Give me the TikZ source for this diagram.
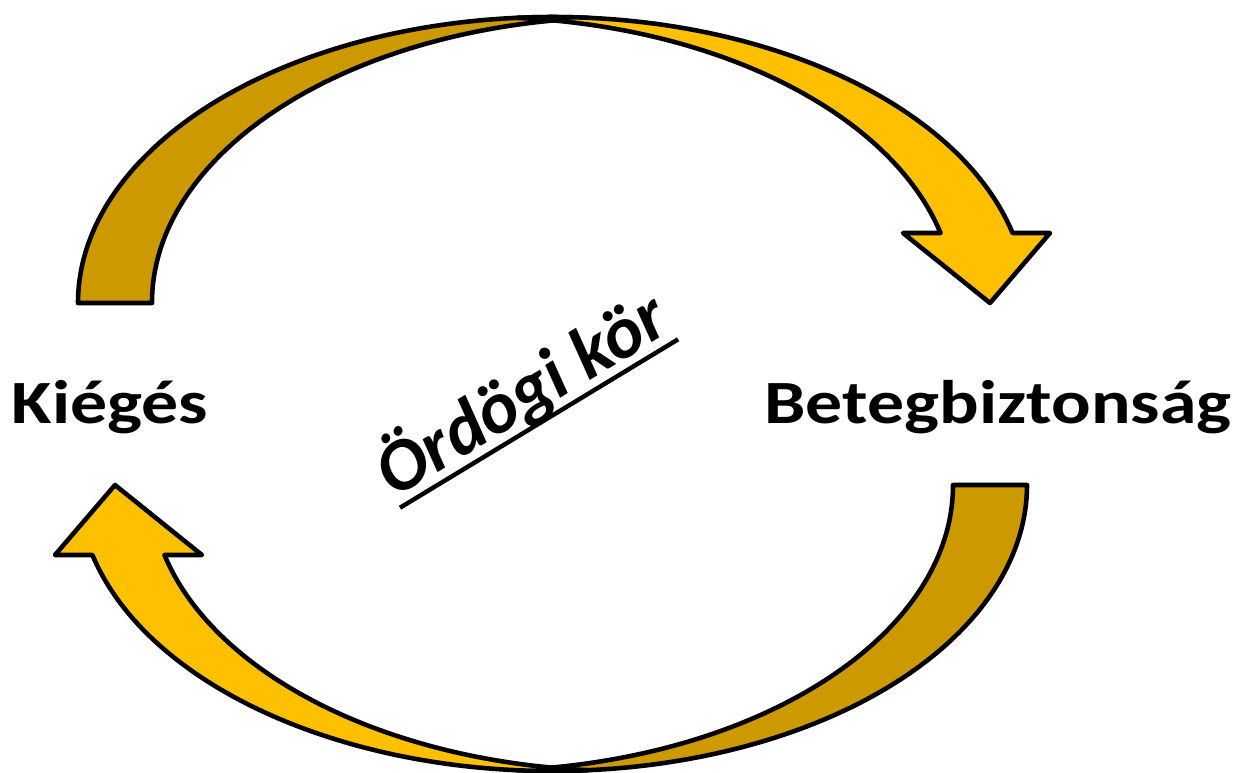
\documentclass[tikz,border=0pt]{standalone}
\usepackage{fontspec}
\setmainfont{Carlito}
\usetikzlibrary{calc}
\definecolor{golddark}{RGB}{204,153,0}
\definecolor{goldbright}{RGB}{255,192,0}
\newcommand\ulbox[1]{\setbox0=\hbox{#1}\leavevmode\rlap{\rule[-0.17em]{\wd0}{0.06em}}\box0}
\tikzset{
  outl/.style={draw=black, line width=2.6pt, line join=round},
  darkpart/.style={outl, fill=golddark},
  brightpart/.style={outl, fill=goldbright},
  lbl/.style={font=\fontsize{35}{40}\selectfont\bfseries, xscale=1.2, inner sep=0pt},
  pics/curvarr/.style={code={
    % back (dark) part: between E1 (centre 0) and E2 (centre 74)
    \path[darkpart] (-474.5,91)
      arc[start angle=180, end angle=85.528, x radius=474.5, y radius=286]
      arc[start angle=94.472, end angle=180, x radius=474.5, y radius=286]
      -- cycle;
    % front (bright) part: between E1 (centre 0) and E3 (centre -72)
    \path[brightpart] ([shift={(0,91)}]94.351:474.5 and 286)
      arc[start angle=94.351, end angle=14.17, x radius=474.5, y radius=286]
      -- (497.5,161) -- (437.5,91) -- (350.5,161)
      -- ([shift={(-72,91)}]14.17:474.5 and 286)
      arc[start angle=14.17, end angle=85.649, x radius=474.5, y radius=286]
      -- cycle;
  }}
}
\begin{document}
\begin{tikzpicture}[x=0.02cm, y=0.02cm]
  \useasboundingbox (-552.5,-378) rectangle (686.5,394);
  \pic (toparrow) {curvarr};
  \pic[rotate=180] (bottomarrow) {curvarr};
  \node[lbl, anchor=base] (kieges) at (-442.5,-29) {Kiégés};
  \node[lbl, anchor=base] (beteg) at (445.5,-29) {Betegbiztonság};
  \node[font=\fontsize{42}{46}\selectfont\bfseries\itshape, inner sep=0pt, anchor=base, rotate=31.2] (ordogi) at (-18.8,-20.7) {\ulbox{Ördögi kör}};
\end{tikzpicture}
\end{document}
